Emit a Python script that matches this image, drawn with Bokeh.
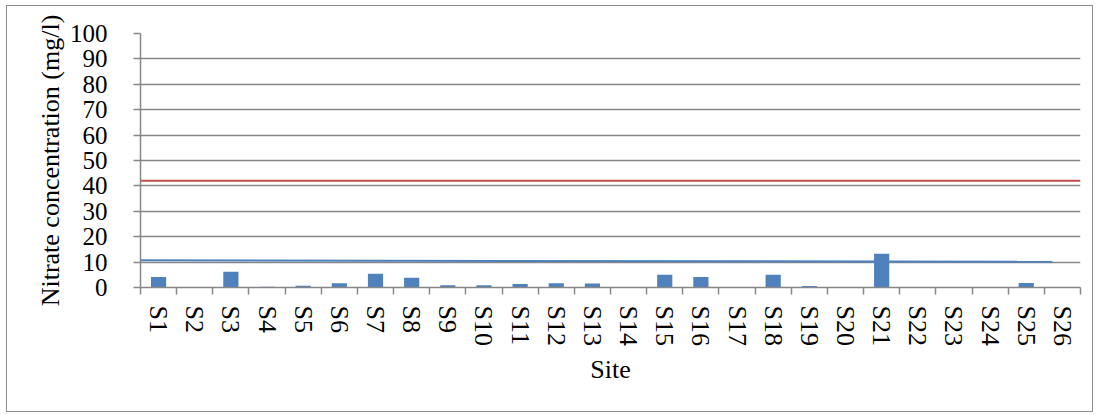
from bokeh.plotting import figure
from bokeh.models import Range1d, FixedTicker, Span
from bokeh.embed import file_html
from bokeh.resources import INLINE

# ---- data ----
sites = ["S1", "S2", "S3", "S4", "S5", "S6", "S7", "S8", "S9", "S10", "S11", "S12", "S13",
         "S14", "S15", "S16", "S17", "S18", "S19", "S20", "S21", "S22", "S23", "S24", "S25", "S26"]
nitrate = [4.1, 0.0, 6.2, 0.3, 0.7, 1.7, 5.4, 3.8, 0.9, 0.9, 1.4, 1.7, 1.6,
           0.0, 5.0, 4.1, 0.0, 5.0, 0.6, 0.0, 13.3, 0.0, 0.0, 0.1, 1.8, 0.0]
limit_value = 42            # red horizontal line (mg/l)
blue_line_values = [10.7, 10.1]   # blue line, left end -> right end
y_ticks = [0, 10, 20, 30, 40, 50, 60, 70, 80, 90, 100]

GRAY = "#878787"
BLUE = "#4F81BD"
RED = "#C0504D"
FONT = "Liberation Serif"

n = len(sites)
centers = [i + 0.5 for i in range(n)]

p = figure(output_backend="svg", toolbar_location=None,
           width=1087, height=407,
           x_range=Range1d(0, n), y_range=Range1d(0, 100),
           min_border_left=133, min_border_top=27, min_border_right=14, min_border_bottom=126)
p.styles = {"border": "1px solid #8c8c8c", "margin-left": "6px", "margin-top": "5px"}
p.outline_line_color = None
p.background_fill_color = "white"
p.border_fill_color = "white"

# grid
p.xgrid.visible = False
p.ygrid.ticker = FixedTicker(ticks=y_ticks)
p.ygrid.grid_line_color = GRAY
p.ygrid.grid_line_width = 1.5

# y axis
ya = p.yaxis[0]
ya.ticker = FixedTicker(ticks=y_ticks)
ya.axis_line_color = GRAY
ya.axis_line_width = 1.5
ya.major_tick_line_color = GRAY
ya.major_tick_line_width = 1.5
ya.major_tick_in = 0
ya.major_tick_out = 7
ya.minor_tick_line_color = None
ya.major_label_text_font = FONT
ya.major_label_text_font_size = "25px"
ya.major_label_text_color = "black"
ya.major_label_standoff = 26
ya.axis_label = "Nitrate concentration (mg/l)"
ya.axis_label_text_font = FONT
ya.axis_label_text_font_size = "26px"
ya.axis_label_text_font_style = "normal"
ya.axis_label_text_color = "black"
ya.axis_label_standoff = 2

# x axis
xa = p.xaxis[0]
xa.ticker = FixedTicker(ticks=centers, minor_ticks=list(range(n + 1)))
xa.major_label_overrides = {c: s for c, s in zip(centers, sites)}
xa.axis_line_color = GRAY
xa.axis_line_width = 1.5
xa.major_tick_line_color = None
xa.major_tick_in = 0
xa.major_tick_out = 0
xa.minor_tick_line_color = GRAY
xa.minor_tick_line_width = 1.5
xa.minor_tick_in = 0
xa.minor_tick_out = 7
xa.major_label_orientation = "vertical"
xa.major_label_text_font = FONT
xa.major_label_text_font_size = "26px"
xa.major_label_text_color = "black"
xa.major_label_standoff = 11
xa.axis_label = "Site"
xa.axis_label_text_font = FONT
xa.axis_label_text_font_size = "26px"
xa.axis_label_text_font_style = "normal"
xa.axis_label_text_color = "black"
xa.axis_label_standoff = 6

# bars
p.vbar(x=centers, top=nitrate, width=0.42, color=BLUE, line_color=None)

# red limit line
p.add_layout(Span(location=limit_value, dimension="width", line_color=RED, line_width=2))

# blue line (from the left edge to S26)
p.line(x=[-0.2, centers[-1] - 0.28], y=blue_line_values, line_color=BLUE, line_width=2)

open("out.html", "w").write(file_html(p, INLINE))
